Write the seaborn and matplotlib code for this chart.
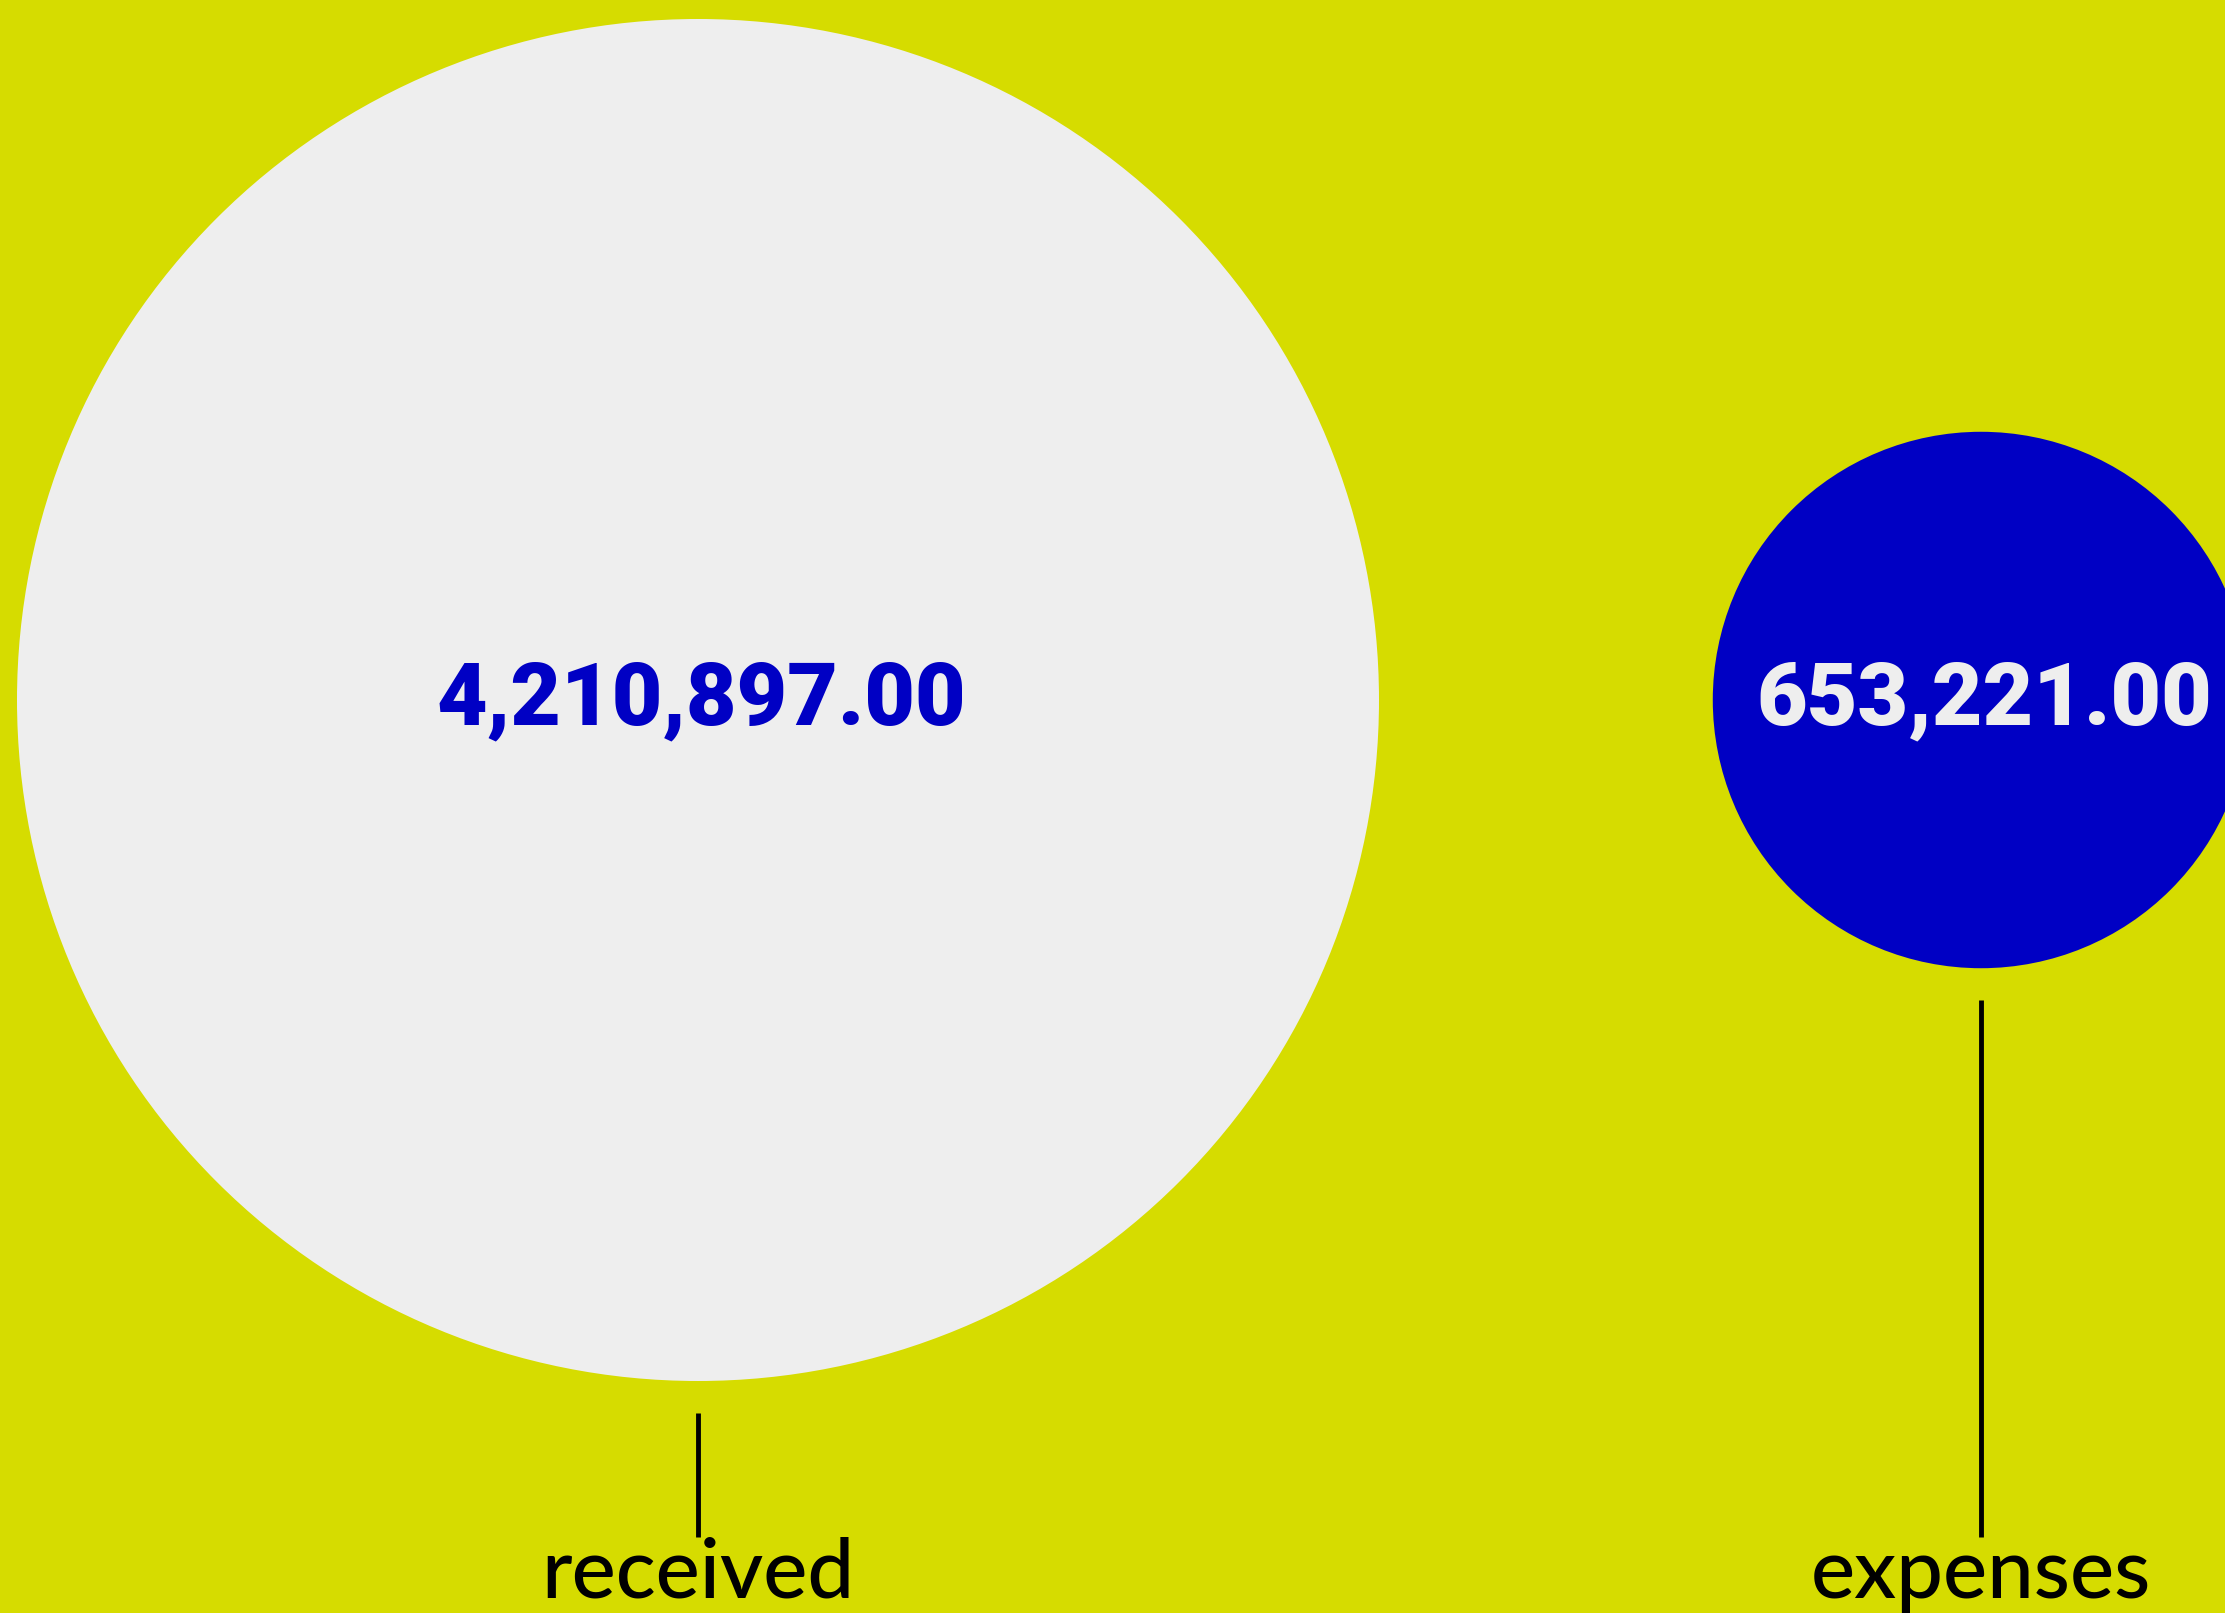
import numpy as np
import pandas as pd
import matplotlib
matplotlib.use("Agg")
import matplotlib.pyplot as plt
from matplotlib.patches import Circle
import seaborn as sns

# data
categories = ["received", "expenses"]
values = [4210897.00, 653221.00]
value_labels = ["4,210,897.00", "653,221.00"]

# styles
BG = "#D6DC00"
fills = ["#EEEEEE", "#0000C4"]
text_colors = ["#0000C4", "#EEEEEE"]

sns.set_theme(style="white")
plt.rcParams["font.family"] = ["DejaVu Sans"]

W, H = 2225, 1613
fig = plt.figure(figsize=(W / 100, H / 100), dpi=100, facecolor=BG)
ax = fig.add_axes([0, 0, 1, 1])
ax.set_facecolor(BG)
ax.set_xlim(0, W)
ax.set_ylim(H, 0)
ax.set_aspect("equal")
ax.axis("off")

df = pd.DataFrame({"category": categories, "value": values, "label": value_labels})
# layout
centers_x = [698, 1981]
center_y = 700
k = 681 / np.sqrt(max(values))
df["r"] = k * np.sqrt(df["value"])
df["x"] = centers_x

line_end = 1537
gap = 32
for i, row in df.iterrows():
    ax.add_patch(Circle((row["x"], center_y), row["r"], facecolor=fills[i],
                        edgecolor="none", zorder=1))
    ax.text(row["x"] + 3, center_y + 24, row["label"], ha="center", va="baseline",
            color=text_colors[i], fontsize=63, fontweight="black",
            family=["Roboto", "DejaVu Sans"], zorder=3)
    ax.plot([row["x"], row["x"]], [center_y + row["r"] + gap, line_end],
            color="black", linewidth=3.5, solid_capstyle="butt", zorder=2)
    ax.text(row["x"], 1598, row["category"], ha="center", va="baseline",
            color="black", fontsize=60, fontweight="medium",
            family=["Lato", "DejaVu Sans"], zorder=3)

fig.savefig("out.png", dpi=100, facecolor=BG)
